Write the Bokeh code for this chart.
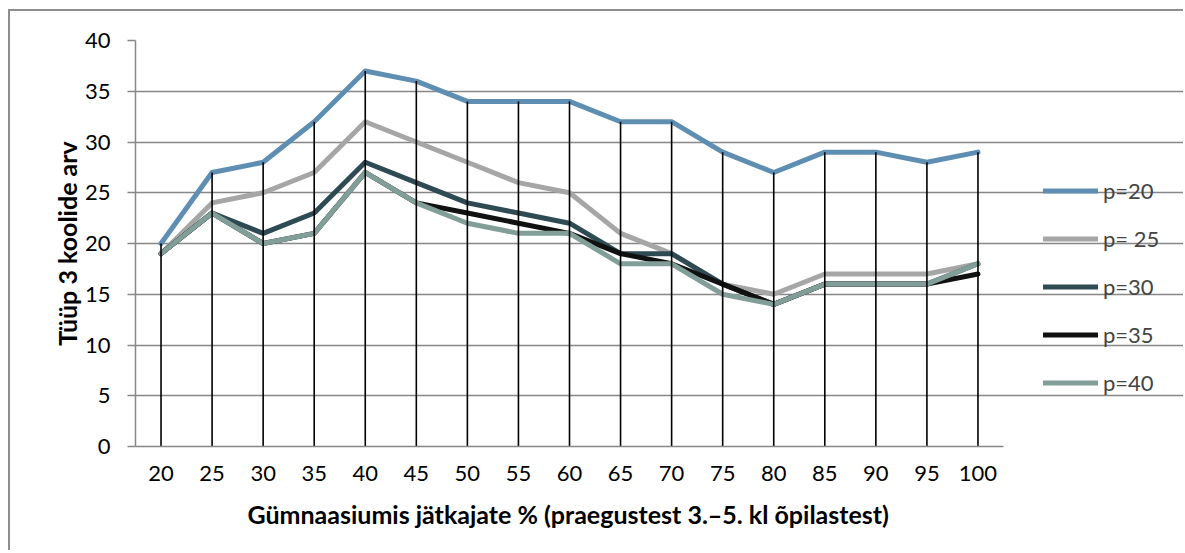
from bokeh.plotting import figure
from bokeh.models import Range1d, Legend, LegendItem, FixedTicker, Title
from bokeh.embed import file_html
from bokeh.resources import INLINE

categories = [20, 25, 30, 35, 40, 45, 50, 55, 60, 65, 70, 75, 80, 85, 90, 95, 100]
p20 = [20, 27, 28, 32, 37, 36, 34, 34, 34, 32, 32, 29, 27, 29, 29, 28, 29]
p25 = [19, 24, 25, 27, 32, 30, 28, 26, 25, 21, 19, 16, 15, 17, 17, 17, 18]
p30 = [19, 23, 21, 23, 28, 26, 24, 23, 22, 19, 19, 16, 14, 16, 16, 16, 18]
p35 = [19, 23, 20, 21, 27, 24, 23, 22, 21, 19, 18, 16, 14, 16, 16, 16, 17]
p40 = [19, 23, 20, 21, 27, 24, 22, 21, 21, 18, 18, 15, 14, 16, 16, 16, 18]
series = [p20, p25, p30, p35, p40]
series_labels = ["p=20", "p= 25", "p=30", "p=35", "p=40"]
colors = ["#5E8FB3", "#A6A6A6", "#2E4A52", "#111111", "#819E98"]
y_ticks = [0, 5, 10, 15, 20, 25, 30, 35, 40]
x_title = "Gümnaasiumis jätkajate % (praegustest 3.–5. kl õpilastest)"
y_title = "Tüüp 3 koolide arv"

FONT = "Lato"
GRID = "#878787"

# layout (pixels)
W, H = 1175, 541
LEFT, TOP, BOTTOM = 125, 29, 106
PLOT_W = 868                      # width of the category area
step = categories[1] - categories[0]
x_lo = categories[0] - step / 2
x_hi = categories[-1] + step / 2
frame_w = W - LEFT
x_end = x_lo + (x_hi - x_lo) * frame_w / PLOT_W

p = figure(width=W, height=H,
           x_range=Range1d(x_lo, x_end),
           y_range=Range1d(0, 40),
           output_backend="svg", toolbar_location=None,
           min_border_left=LEFT, min_border_right=0,
           min_border_top=TOP, min_border_bottom=BOTTOM,
           styles={"margin-left": "8px", "margin-top": "9px",
                   "border-top": "2px solid #8E8E8E",
                   "border-left": "2px solid #8E8E8E"})
p.outline_line_color = None
p.background_fill_color = "white"
p.border_fill_color = "white"

renderers = []
for vals, col in zip(series, colors):
    r = p.line(categories, vals, line_color=col, line_width=5,
               line_join="round", line_cap="round")
    renderers.append(r)

# drop lines from highest point to the axis
tops = [max(v) for v in zip(*series)]
p.segment(x0=categories, y0=[0] * len(categories), x1=categories, y1=tops,
          line_color="black", line_width=1.6)

p.xgrid.grid_line_color = None
p.yaxis.ticker = FixedTicker(ticks=y_ticks)
p.xaxis.ticker = FixedTicker(ticks=categories)
p.ygrid.grid_line_color = GRID
p.ygrid.grid_line_width = 1.5
p.ygrid.bounds = (x_lo, x_hi)
p.xaxis.bounds = (x_lo, x_hi)

for ax in (p.xaxis[0], p.yaxis[0]):
    ax.axis_line_color = GRID
    ax.axis_line_width = 1.5
    ax.major_label_text_font = FONT
    ax.major_label_text_font_size = "22px"
    ax.major_label_text_color = "black"
    ax.axis_label_text_font = FONT
    ax.axis_label_text_font_style = "bold"
    ax.axis_label_text_font_size = "25px"
    ax.axis_label_text_color = "black"
    ax.minor_tick_line_color = None

p.xaxis.major_tick_line_color = None
p.xaxis.major_label_standoff = 13

p.yaxis.major_tick_line_color = GRID
p.yaxis.major_tick_line_width = 1.5
p.yaxis.major_tick_in = 0
p.yaxis.major_tick_out = 8
p.yaxis.major_label_standoff = 17
p.yaxis.axis_label = y_title
p.yaxis.axis_label_standoff = 0

# small spacer between tick labels and the x-axis title
p.add_layout(Title(text=" ", text_font=FONT, text_font_size="5px", standoff=0), "below")
# x-axis title centred under the category area (not the legend area)
p.add_layout(Title(text=x_title, align="left", offset=112,
                   text_font=FONT, text_font_size="25px",
                   text_font_style="bold", text_color="black"), "below")

legend = Legend(items=[LegendItem(label=l, renderers=[r]) for l, r in zip(series_labels, renderers)],
                location=(908, 50), orientation="vertical",
                glyph_width=55, glyph_height=27, label_height=27,
                spacing=21, padding=0, margin=0,
                border_line_color=None, background_fill_alpha=0,
                label_text_font=FONT, label_text_font_size="22px",
                label_standoff=5)
p.add_layout(legend)

open("out.html", "w").write(file_html(p, INLINE))
